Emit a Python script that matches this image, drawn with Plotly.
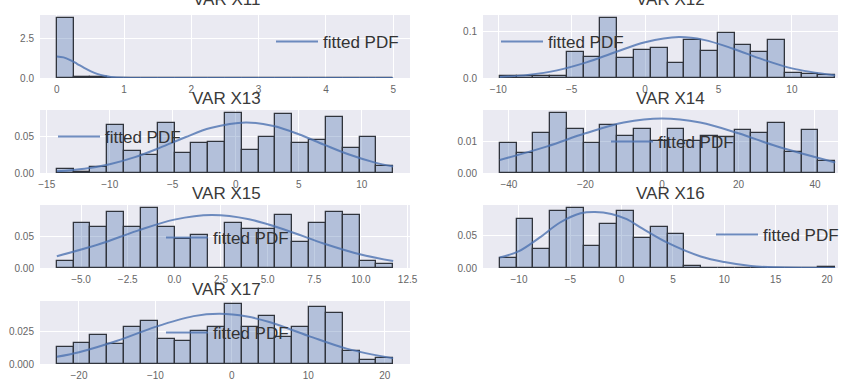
import numpy as np
import plotly.graph_objects as go

W, H = 843, 383

titles = ["VAR X11", "VAR X12", "VAR X13", "VAR X14", "VAR X15", "VAR X16", "VAR X17"]

# Histogram of each variable: (min, max) of the data and density of 20 equal bins
x11_bins = (0.0, 5.0)
x11_density = [3.75, 0.09, 0.05, 0.03, 0.02, 0.01, 0.0, 0.0, 0.0, 0.0,
               0.0, 0.0, 0.0, 0.0, 0.0, 0.0, 0.0, 0.0, 0.0, 0.02]

x12_bins = (-9.9, 12.95)
x12_density = [0.004, 0.005, 0.004, 0.005, 0.055, 0.046, 0.129, 0.043, 0.061, 0.064,
               0.032, 0.082, 0.057, 0.096, 0.071, 0.056, 0.082, 0.011, 0.009, 0.007]

x13_bins = (-14.2, 12.5)
x13_density = [0.0055, 0.002, 0.008, 0.065, 0.030, 0.024, 0.069, 0.027, 0.041, 0.043,
               0.082, 0.032, 0.049, 0.080, 0.041, 0.045, 0.076, 0.034, 0.049, 0.010]

x14_bins = (-42.4, 45.3)
x14_density = [0.0095, 0.0063, 0.0126, 0.0189, 0.0140, 0.0095, 0.0150, 0.0116, 0.0140, 0.0100,
               0.0140, 0.0102, 0.0116, 0.0113, 0.0134, 0.0126, 0.0158, 0.0065, 0.0134, 0.0037]

x15_bins = (-6.3, 11.73)
x15_density = [0.0105, 0.071, 0.064, 0.087, 0.065, 0.094, 0.065, 0.046, 0.051, 0.0,
               0.071, 0.0605, 0.0605, 0.083, 0.041, 0.071, 0.087, 0.083, 0.0105, 0.006]

x16_bins = (-11.87, 20.8)
x16_density = [0.015, 0.074, 0.029, 0.087, 0.091, 0.033, 0.067, 0.087, 0.046, 0.062,
               0.051, 0.0035, 0.0, 0.0, 0.0, 0.0, 0.0, 0.0, 0.0, 0.001]

x17_bins = (-22.9, 21.1)
x17_density = [0.013, 0.016, 0.0225, 0.015, 0.028, 0.033, 0.019, 0.0175, 0.025, 0.028,
               0.046, 0.028, 0.0365, 0.021, 0.028, 0.044, 0.039, 0.010, 0.003, 0.0045]

# Fitted PDF curves (x, density)
x11_pdf_x = [0.0, 0.1, 0.2, 0.3, 0.4, 0.5, 0.6, 0.7, 0.8, 1.0, 1.5, 5.0]
x11_pdf_y = [1.35, 1.29, 1.12, 0.89, 0.65, 0.43, 0.26, 0.14, 0.07, 0.01, 0.0, 0.0]

x12_pdf_x = [-9.9, -8, -6, -4, -2, 0, 2.3, 4, 6, 8, 10, 12.95]
x12_pdf_y = [0.0023, 0.0067, 0.0164, 0.0335, 0.056, 0.077, 0.088, 0.082, 0.063, 0.040, 0.0207, 0.0056]

x13_pdf_x = [-14.2, -12, -10, -8, -6, -4, -2, 0.8, 3, 5, 7, 9, 11, 12.5]
x13_pdf_y = [0.0024, 0.0059, 0.012, 0.0217, 0.0346, 0.0489, 0.0614, 0.069, 0.0642, 0.053,
             0.0388, 0.0252, 0.0145, 0.0089]

x14_pdf_x = [-42.4, -30, -20, -10, 0, 10, 20, 30, 45.3]
x14_pdf_y = [0.0041, 0.0084, 0.0125, 0.0159, 0.0172, 0.0159, 0.0125, 0.0084, 0.0033]

x15_pdf_x = [-6.3, -4, -2, 0, 2, 4, 6, 8, 10, 11.73]
x15_pdf_y = [0.0183, 0.0375, 0.0581, 0.0758, 0.083, 0.0764, 0.0592, 0.0385, 0.0211, 0.0109]

x16_pdf_x = [-11.87, -10, -8, -6, -4, -2.6, -1, 0.5, 2, 4.5, 7.7, 10, 12.6, 15, 20.8]
x16_pdf_y = [0.016, 0.0255, 0.046, 0.069, 0.083, 0.085, 0.082, 0.074, 0.060, 0.038,
             0.0175, 0.009, 0.003, 0.001, 0.0]

x17_pdf_x = [-22.9, -20, -15, -10, -5, -1.6, 2, 5, 10, 15, 21.1]
x17_pdf_y = [0.0055, 0.009, 0.0178, 0.0285, 0.0367, 0.0385, 0.0364, 0.032, 0.0216, 0.0118, 0.0043]

bins = [x11_bins, x12_bins, x13_bins, x14_bins, x15_bins, x16_bins, x17_bins]
densities = [x11_density, x12_density, x13_density, x14_density, x15_density, x16_density, x17_density]
pdf_x = [x11_pdf_x, x12_pdf_x, x13_pdf_x, x14_pdf_x, x15_pdf_x, x16_pdf_x, x17_pdf_x]
pdf_y = [x11_pdf_y, x12_pdf_y, x13_pdf_y, x14_pdf_y, x15_pdf_y, x16_pdf_y, x17_pdf_y]

# ---- layout geometry (pixels) ----
col_x = [(40, 410), (483, 838)]
row_y = [(15, 78), (110, 173), (205, 268), (301, 364)]
full_right_width = 369  # right-column axes are cut off at the page edge
title_cx = [226, 670]
title_lift = [4, 0, 0, 0]
x_dtick = [1, 5, 5, 20, 2.5, 5, 10]
x_fmt = ["d", "d", "d", "d", ".1f", "d", "d"]
y_dtick = [2.5, 0.1, 0.05, 0.01, 0.05, 0.05, 0.025]
y_fmt = [".1f", ".1f", ".2f", ".2f", ".2f", ".2f", ".3f"]
legend_pos = [(273, 42), (498, 42), (55, 137), (608, 142), (163, 238), (713, 235), (163, 333)]

BG = "#EAEAF2"
BAR_FILL = "rgba(76,114,176,0.35)"
BAR_EDGE = "#30343c"
LINE = "rgba(76,114,176,0.8)"
FONT = "Liberation Sans, Arial, sans-serif"


def fx(p):
    return p / W


def fy(p):
    return 1 - p / H


fig = go.Figure()
layout = dict(
    width=W, height=H,
    margin=dict(l=0, r=0, t=0, b=0, autoexpand=False),
    paper_bgcolor="white", plot_bgcolor=BG,
    showlegend=True,
    annotations=[],
    bargap=0,
)

for i in range(7):
    row, col = divmod(i, 2)
    lo, hi = bins[i]
    dens = np.asarray(densities[i])
    n = len(dens)
    edges = np.linspace(lo, hi, n + 1)
    centers = (edges[:-1] + edges[1:]) / 2
    width = edges[1] - edges[0]
    ax = "" if i == 0 else str(i + 1)
    leg = "legend" if i == 0 else f"legend{i + 1}"

    fig.add_trace(go.Bar(
        x=centers, y=dens, width=width,
        marker=dict(color=BAR_FILL, line=dict(color=BAR_EDGE, width=1.3)),
        xaxis="x" + ax, yaxis="y" + ax, showlegend=False, hoverinfo="skip",
    ))
    fig.add_trace(go.Scatter(
        x=pdf_x[i], y=pdf_y[i], mode="lines", line=dict(color=LINE, width=2, shape="spline"),
        name="fitted PDF", xaxis="x" + ax, yaxis="y" + ax, legend=leg,
    ))

    span = hi - lo
    x0 = lo - 0.05 * span
    x1 = hi + 0.05 * span
    px0, px1 = col_x[col]
    if col == 1:
        x1 = x0 + (x1 - x0) * (px1 - px0) / full_right_width
    top, bot = row_y[row]
    ymax = 1.05 * dens.max()

    tickfont = dict(family=FONT, size=10, color="#666666")
    layout["xaxis" + ax] = dict(
        domain=[fx(px0), fx(px1)], range=[x0, x1], anchor="y" + ax,
        dtick=x_dtick[i], tick0=0, tickformat=x_fmt[i], showgrid=True, gridcolor="white",
        gridwidth=1, zeroline=False, showline=False, ticks="", tickfont=tickfont,
        ticklabelstandoff=4,
    )
    layout["yaxis" + ax] = dict(
        domain=[fy(bot), fy(top)], range=[0, ymax], anchor="x" + ax,
        dtick=y_dtick[i], tick0=0, tickformat=y_fmt[i], showgrid=True, gridcolor="white",
        gridwidth=1, zeroline=False, showline=False, ticks="", tickfont=tickfont,
        ticklabelstandoff=5,
    )
    layout["annotations"].append(dict(
        text=titles[i], xref="paper", yref="paper", x=fx(title_cx[col]), y=fy(top),
        xanchor="center", yanchor="bottom", showarrow=False, yshift=title_lift[row],
        font=dict(family=FONT, size=17, color="#3a3a3a"),
    ))
    lx, ly = legend_pos[i]
    layout[leg] = dict(
        x=fx(lx - 2), y=fy(ly), xanchor="left", yanchor="middle",
        bgcolor="rgba(0,0,0,0)", borderwidth=0, itemwidth=42,
        font=dict(family=FONT, size=17, color="#333333"),
    )

fig.update_layout(**layout)
fig.write_html("out.html")
